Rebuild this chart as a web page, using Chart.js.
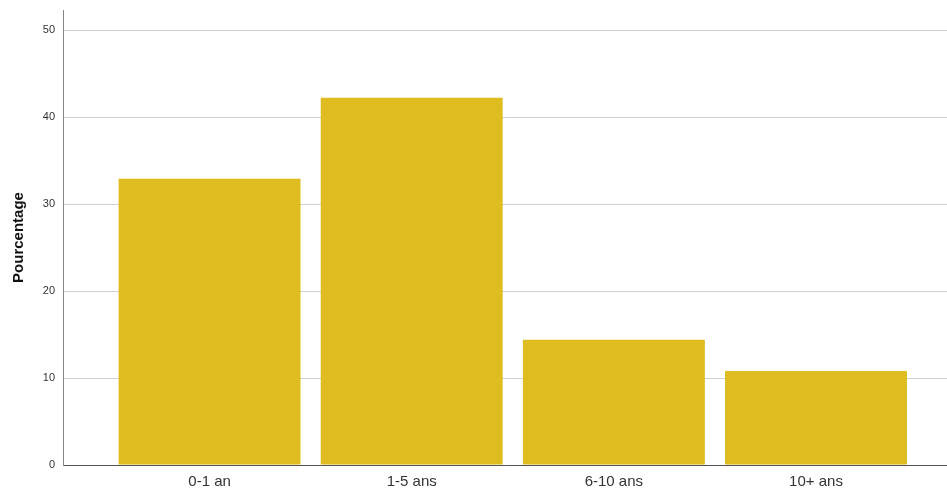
<!DOCTYPE html>
<html lang="fr">
<head>
  <meta charset="UTF-8">
  <title>Pourcentage</title>
  <script src="https://cdn.jsdelivr.net/npm/chart.js"></script>
  <style>
    html, body { margin:0; padding:0; background:#fff; }
    #wrap { width:947px; height:494px; position:relative; }
  </style>
</head>
<body>
<div id="wrap"><canvas id="chart"></canvas></div>
<script>
const categories = ['0-1 an', '1-5 ans', '6-10 ans', '10+ ans'];
const percentages = [32.9, 42.2, 14.4, 10.8];
const yTicks = [0, 10, 20, 30, 40, 50];

const ctx = document.getElementById('chart').getContext('2d');
new Chart(ctx, {
  type: 'bar',
  data: {
    datasets: [{
      data: percentages.map((v, i) => ({ x: i, y: v })),
      backgroundColor: '#dfbc1f',
      borderWidth: 0,
      categoryPercentage: 1,
      barPercentage: 0.9
    }]
  },
  options: {
    responsive: true,
    maintainAspectRatio: false,
    animation: false,
    layout: { padding: { top: 10, right: 0, left: 0, bottom: 0 } },
    plugins: { legend: { display: false }, tooltip: { enabled: false } },
    scales: {
      x: {
        type: 'linear',
        offset: false,
        min: -0.725,
        max: 3.648,
        grid: { display: false, drawTicks: false, offset: false },
        border: { color: '#555', width: 1 },
        afterBuildTicks: s => { s.ticks = categories.map((c, i) => ({ value: i })); },
        afterFit: s => { s.height = 29; s.paddingLeft = 0; s.paddingRight = 0; },
        ticks: {
          callback: v => categories[v],
          color: '#333',
          padding: 8,
          maxRotation: 0,
          autoSkip: false,
          font: { family: 'Liberation Sans, Arial, sans-serif', size: 15 }
        }
      },
      y: {
        min: 0,
        max: 52.3,
        afterBuildTicks: s => { s.ticks = yTicks.map(v => ({ value: v })); },
        afterFit: s => { s.width = 63; s.paddingTop = 0; s.paddingBottom = 0; },
        grid: { color: '#d0d0d0', lineWidth: 1, drawTicks: false },
        border: { color: '#888', width: 1 },
        ticks: {
          color: '#333',
          padding: 8,
          font: { family: 'Liberation Sans, Arial, sans-serif', size: 11 }
        },
        title: {
          display: true,
          text: 'Pourcentage',
          color: '#111',
          padding: { top: 10, bottom: 12 },
          font: { family: 'Liberation Sans, Arial, sans-serif', size: 15, weight: 'bold' }
        }
      }
    }
  }
});
</script>
</body>
</html>
